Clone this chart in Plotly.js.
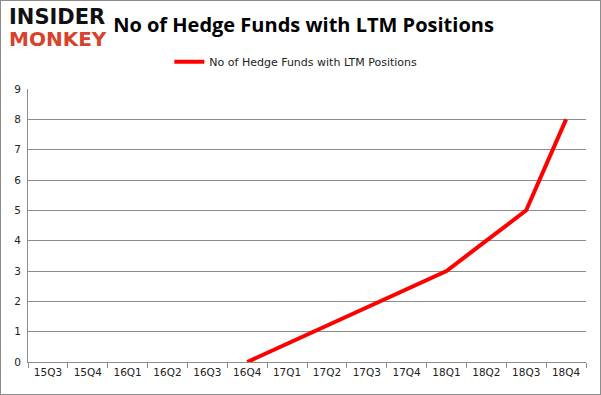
<!DOCTYPE html>
<html><head><meta charset="utf-8">
<script src="https://cdn.plot.ly/plotly-3.0.1.min.js"></script>
<style>body{margin:0;padding:0;background:#fff}#wrap{width:599px;height:393px;border:1px solid #8c8c8c}#chart{width:599px;height:393px}</style>
</head><body><div id="wrap"><div id="chart"></div></div>
<script>
const quarters = ["15Q3","15Q4","16Q1","16Q2","16Q3","16Q4","17Q1","17Q2","17Q3","17Q4","18Q1","18Q2","18Q3","18Q4"];
const hedgeFunds = [null,null,null,null,null,0,null,null,null,null,3,4,5,8];
const seriesName = "No of Hedge Funds with LTM Positions";
const titleText = "No of Hedge Funds with LTM Positions";
const yTicks = [0,1,2,3,4,5,6,7,8,9];

const tickFont = {family:"DejaVu Sans, Verdana, sans-serif", size:10.5, color:"#222"};
Plotly.newPlot("chart", [{
  x: quarters, y: hedgeFunds, type:"scatter", mode:"lines", name: seriesName,
  connectgaps: true, line:{color:"#ff0000", width:4}
}], {
  width:599, height:393,
  margin:{l:27, r:14, t:88, b:32},
  paper_bgcolor:"#fff", plot_bgcolor:"#fff",
  showlegend:true,
  legend:{orientation:"h", x:0.48, xanchor:"center", y:1.1, yanchor:"middle",
    font:{family:"DejaVu Sans, Verdana, sans-serif", size:11, color:"#222"}, itemwidth:30},
  title:{text:titleText, x:0.505, xanchor:"center", y:0.94, yanchor:"middle",
    font:{family:"Open Sans, Liberation Sans, sans-serif", size:20, color:"#000", weight:"bold"}},
  xaxis:{type:"category", range:[-0.5,13.5], tickson:"boundaries", ticks:"outside", ticklen:5,
    tickcolor:"#8c8c8c", showline:true, linecolor:"#8c8c8c", showgrid:false, tickfont:tickFont, fixedrange:true},
  yaxis:{range:[0,9], tickvals:yTicks, showgrid:true, gridcolor:"#8c8c8c", gridwidth:1,
    showline:true, linecolor:"#8c8c8c", zeroline:false, ticks:"", tickfont:tickFont, ticklabelstandoff:4},
  annotations:[
    {text:"<b>INSIDER</b>", xref:"paper", yref:"paper", x:-0.038, y:1.262, xanchor:"left", yanchor:"middle", showarrow:false,
      font:{family:"DejaVu Sans, sans-serif", size:21, color:"#111"}},
    {text:"<b>MONKEY</b>", xref:"paper", yref:"paper", x:-0.038, y:1.182, xanchor:"left", yanchor:"middle", showarrow:false,
      font:{family:"DejaVu Sans, sans-serif", size:20, color:"#d8412b"}}
  ]
}, {displayModeBar:false, staticPlot:true});
</script></body></html>
